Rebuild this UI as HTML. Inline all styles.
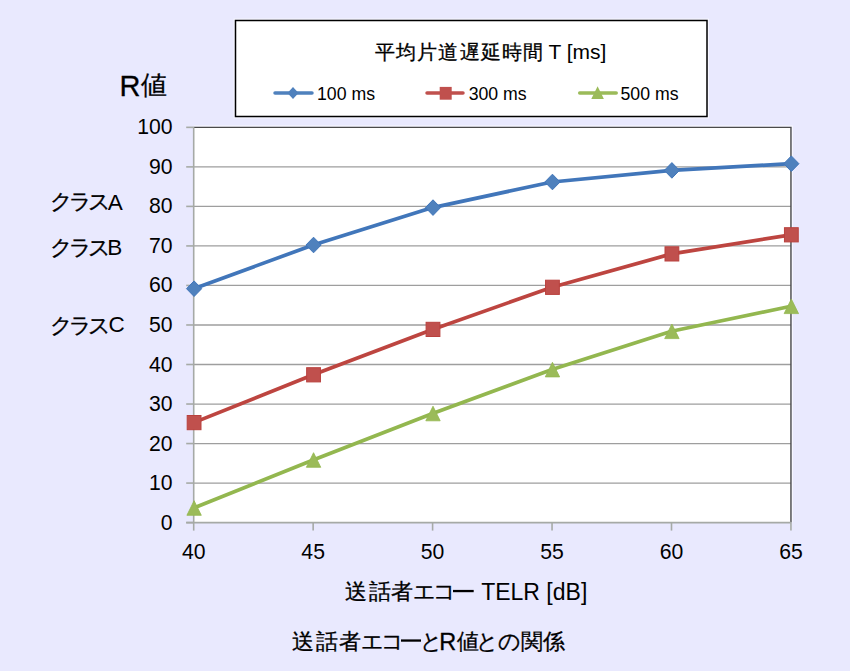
<!DOCTYPE html>
<html><head><meta charset="utf-8">
<style>
html,body{margin:0;padding:0;width:850px;height:671px;overflow:hidden;background:#e9e9fe;}
svg{display:block;font-family:"Liberation Sans",sans-serif;}
.b text,text.b{stroke:#000;stroke-width:0.3px;}
</style></head><body>
<svg width="850" height="671" viewBox="0 0 850 671">
<rect x="0" y="0" width="850" height="671" fill="#e9e9fe"/>
<!-- legend -->
<rect x="234.2" y="19.2" width="474.1" height="98.6" fill="none" stroke="#fff" stroke-opacity="0.7" stroke-width="1.2"/>
<rect x="235.5" y="20.5" width="471.5" height="96" fill="#fff" stroke="#000" stroke-width="1.5"/>
<text class="b" y="58.6" font-size="20.2" fill="#000" x="374.7 395.9 417.1 438.3 459.5 480.7 501.9 522.9">平均片道遅延時間</text>
<text x="548.5" y="58.9" font-size="21" fill="#000">T [ms]</text>
<g stroke-linecap="round" stroke-width="3.5">
<line x1="275" y1="93" x2="312" y2="93" stroke="#4f81bd"/>
<line x1="427" y1="93.1" x2="463" y2="93.1" stroke="#c0504d"/>
<line x1="579.7" y1="93" x2="616.2" y2="93" stroke="#9bbb59"/>
</g>
<path d="M293,87 L298.5,93 L293,99 L287.5,93Z" fill="#4f81bd"/>
<rect x="439.7" y="86.9" width="12" height="12.8" fill="#c0504d"/>
<path d="M597.6,86.3 L603.9,98.9 L591.3,98.9Z" fill="#9bbb59"/>
<g font-size="17.7" fill="#000">
<text x="317" y="99.7">100 ms</text>
<text x="468.7" y="99.7">300 ms</text>
<text x="620.5" y="99.7">500 ms</text>
</g>
<!-- plot area -->
<rect x="193.70" y="127.35" width="597.25" height="395.25" fill="#fff"/>
<g stroke="#9e9e9e" stroke-width="1.3">
<line x1="193.70" y1="483.08" x2="790.95" y2="483.08"/>
<line x1="193.70" y1="443.55" x2="790.95" y2="443.55"/>
<line x1="193.70" y1="404.03" x2="790.95" y2="404.03"/>
<line x1="193.70" y1="364.50" x2="790.95" y2="364.50"/>
<line x1="193.70" y1="324.98" x2="790.95" y2="324.98"/>
<line x1="193.70" y1="285.45" x2="790.95" y2="285.45"/>
<line x1="193.70" y1="245.93" x2="790.95" y2="245.93"/>
<line x1="193.70" y1="206.40" x2="790.95" y2="206.40"/>
<line x1="193.70" y1="166.88" x2="790.95" y2="166.88"/>
</g>
<path d="M193.70,126.05 L792.25,126.05 L792.25,522.60" fill="none" stroke="#fff" stroke-opacity="0.7" stroke-width="1.2"/>
<path d="M193.70,127.35 L790.95,127.35 L790.95,522.60" fill="none" stroke="#4a4a4a" stroke-width="1.4"/>
<g stroke="#a6aaa6" stroke-width="1.6">
<line x1="193.70" y1="127.35" x2="193.70" y2="522.60"/>
<line x1="186.20" y1="522.60" x2="790.95" y2="522.60"/>
<line x1="186.20" y1="522.60" x2="193.70" y2="522.60"/>
<line x1="186.20" y1="483.08" x2="193.70" y2="483.08"/>
<line x1="186.20" y1="443.55" x2="193.70" y2="443.55"/>
<line x1="186.20" y1="404.03" x2="193.70" y2="404.03"/>
<line x1="186.20" y1="364.50" x2="193.70" y2="364.50"/>
<line x1="186.20" y1="324.98" x2="193.70" y2="324.98"/>
<line x1="186.20" y1="285.45" x2="193.70" y2="285.45"/>
<line x1="186.20" y1="245.93" x2="193.70" y2="245.93"/>
<line x1="186.20" y1="206.40" x2="193.70" y2="206.40"/>
<line x1="186.20" y1="166.88" x2="193.70" y2="166.88"/>
<line x1="186.20" y1="127.35" x2="193.70" y2="127.35"/>
<line x1="193.70" y1="522.60" x2="193.70" y2="530.60"/>
<line x1="313.15" y1="522.60" x2="313.15" y2="530.60"/>
<line x1="432.60" y1="522.60" x2="432.60" y2="530.60"/>
<line x1="552.05" y1="522.60" x2="552.05" y2="530.60"/>
<line x1="671.50" y1="522.60" x2="671.50" y2="530.60"/>
<line x1="790.95" y1="522.60" x2="790.95" y2="530.60"/>
</g>
<g font-size="21.2" fill="#000" text-anchor="end">
<text x="172.5" y="529.60">0</text>
<text x="172.5" y="490.08">10</text>
<text x="172.5" y="450.55">20</text>
<text x="172.5" y="411.03">30</text>
<text x="172.5" y="371.50">40</text>
<text x="172.5" y="331.98">50</text>
<text x="172.5" y="292.45">60</text>
<text x="172.5" y="252.93">70</text>
<text x="172.5" y="213.40">80</text>
<text x="172.5" y="173.88">90</text>
<text x="172.5" y="134.35">100</text>
</g>
<g font-size="21.2" fill="#000" text-anchor="middle">
<text x="193.70" y="559">40</text>
<text x="313.15" y="559">45</text>
<text x="432.60" y="559">50</text>
<text x="552.05" y="559">55</text>
<text x="671.50" y="559">60</text>
<text x="790.95" y="559">65</text>
</g>
<!-- series -->
<g fill="none" stroke-width="3.7" stroke-linejoin="round" stroke-linecap="round">
<path stroke="#4176ba" d="M193.70,288.70 L313.15,245.00 L432.60,207.60 L552.05,182.00 L671.50,170.40 L790.95,163.70"/>
<path stroke="#bd4540" d="M193.70,422.60 L313.15,374.80 L432.60,329.40 L552.05,287.30 L671.50,253.90 L790.95,234.80"/>
<path stroke="#93b74f" d="M193.70,508.00 L313.15,460.00 L432.60,413.50 L552.05,369.60 L671.50,331.30 L790.95,306.30"/>
</g>
<g fill="#4f81bd" stroke="#4176ba" stroke-width="1">
<path d="M194.10,280.90 l7.6,7.8 l-7.6,7.8 l-7.6,-7.8Z"/>
<path d="M313.55,237.20 l7.6,7.8 l-7.6,7.8 l-7.6,-7.8Z"/>
<path d="M433.00,199.80 l7.6,7.8 l-7.6,7.8 l-7.6,-7.8Z"/>
<path d="M552.45,174.20 l7.6,7.8 l-7.6,7.8 l-7.6,-7.8Z"/>
<path d="M671.90,162.60 l7.6,7.8 l-7.6,7.8 l-7.6,-7.8Z"/>
<path d="M791.35,155.90 l7.6,7.8 l-7.6,7.8 l-7.6,-7.8Z"/>
</g>
<g fill="#c0504d" stroke="#b9413e" stroke-width="1">
<rect x="187.20" y="415.50" width="13.8" height="14.2"/>
<rect x="306.65" y="367.70" width="13.8" height="14.2"/>
<rect x="426.10" y="322.30" width="13.8" height="14.2"/>
<rect x="545.55" y="280.20" width="13.8" height="14.2"/>
<rect x="665.00" y="246.80" width="13.8" height="14.2"/>
<rect x="784.45" y="227.70" width="13.8" height="14.2"/>
</g>
<g fill="#9bbb59" stroke="#93b74f" stroke-width="0.8" stroke-linejoin="round">
<path d="M194.10,500.70 l7.2,14.6 l-14.4,0Z"/>
<path d="M313.55,452.70 l7.2,14.6 l-14.4,0Z"/>
<path d="M433.00,406.20 l7.2,14.6 l-14.4,0Z"/>
<path d="M552.45,362.30 l7.2,14.6 l-14.4,0Z"/>
<path d="M671.90,324.00 l7.2,14.6 l-14.4,0Z"/>
<path d="M791.35,299.00 l7.2,14.6 l-14.4,0Z"/>
</g>
<!-- side labels -->
<text class="b" x="119.6" y="95.6" font-size="29" fill="#000">R</text>
<text class="b" x="141.3" y="93.6" font-size="25.6" fill="#000">値</text>
<g class="b" font-size="22" fill="#000">
<text y="209" x="49.7 68.5 87.5">クラス</text>
<text y="254.5" x="49.7 68.5 87.5">クラス</text>
<text y="332.5" x="49.7 68.5 87.5">クラス</text>
</g>
<g font-size="22.5" fill="#000">
<text x="107.8" y="209.8">A</text>
<text x="107.3" y="254.6">B</text>
<text x="108.6" y="332.4">C</text>
</g>
<g class="b" font-size="22" fill="#000">
<text y="599" x="345.3 368.6 391.4 413.4 433.4">送話者エコ</text>
<text y="648.5" x="292.2 316.1 338.9 361.2 381.4">送話者エコ</text>
<text y="648.5" x="419.9">と</text>
<text y="648.5" x="457.3 476 497.5 521.3 542.5">値との関係</text>
<text y="649.6" x="439.2" font-size="23.5">R</text>
</g>
<rect x="453" y="589.9" width="20.7" height="2.3" fill="#000"/>
<rect x="401" y="639.4" width="20" height="2.3" fill="#000"/>
<text x="481.2" y="599.6" font-size="23" fill="#000">TELR [dB]</text>
</svg>
</body></html>
